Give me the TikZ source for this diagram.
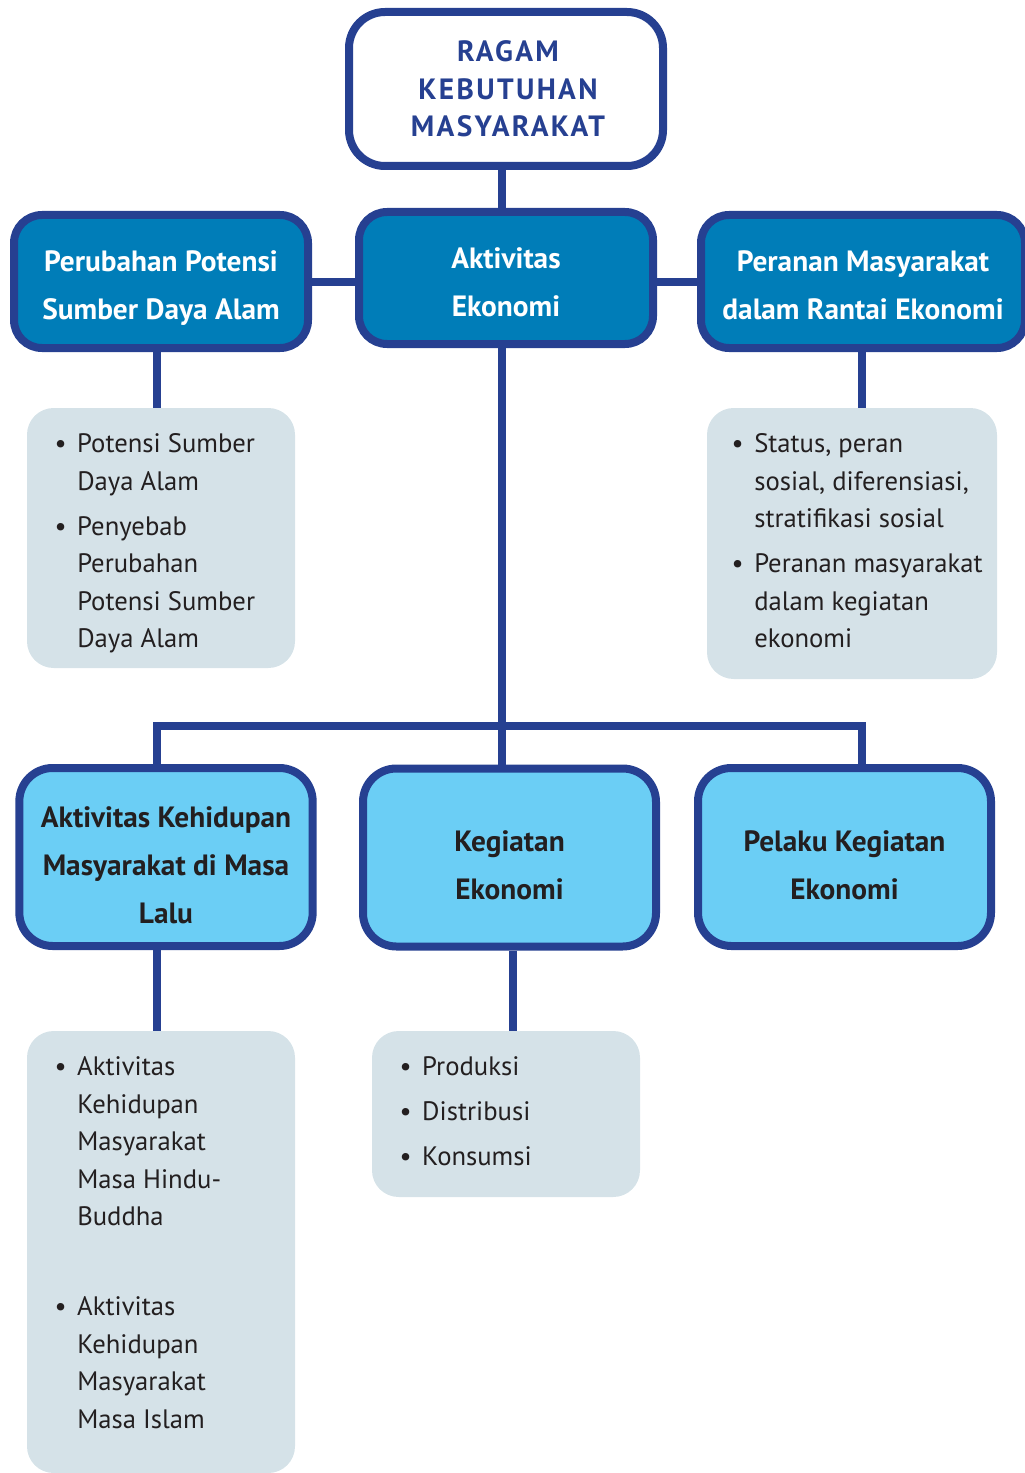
\documentclass[tikz,border=0pt]{standalone}
\usepackage{fontspec}
\setmainfont{PT Sans}
\definecolor{dblue}{RGB}{38,64,145}
\definecolor{mblue}{RGB}{0,125,184}
\definecolor{lblue}{RGB}{107,206,245}
\definecolor{gbox}{RGB}{213,226,232}
\definecolor{ink}{RGB}{35,31,32}
\newcommand{\itm}{\makebox[0pt][r]{\textbullet\hspace{8pt}}}
\begin{document}
\begin{tikzpicture}[x=0.75pt,y=-0.75pt,
 boxbase/.style={draw=dblue,line width=6pt,inner sep=0pt,rounded corners=21pt},
 topbox/.style={boxbase,fill=white,minimum width=235.5pt,minimum height=115.5pt,rounded corners=27pt},
 midbox/.style={boxbase,fill=mblue,minimum width=220.5pt,minimum height=99.75pt},
 lowbox/.style={boxbase,fill=lblue,minimum width=220pt,minimum height=133.5pt,rounded corners=25pt},
 graybox/.style={fill=gbox,inner sep=0pt,rounded corners=20pt},
 toptext/.style={font=\bfseries\fontsize{22}{28}\selectfont\addfontfeatures{LetterSpace=8},align=center,inner sep=0pt,text=dblue},
 hdrtext/.style={font=\bfseries\fontsize{22}{36}\selectfont,align=center,inner sep=0pt},
 listtext/.style={font=\fontsize{20}{28.1}\selectfont,align=left,inner sep=0pt,anchor=north west,text=ink},
 link/.style={draw=dblue,line width=6pt}
]
\useasboundingbox (0,0) rectangle (1024,1473);
\coordinate (trunk) at (502,0);
\coordinate (xl) at (157,0);
\coordinate (xr) at (862,0);
\coordinate (xlc) at (513,0);
\coordinate (busy) at (0,726);
\coordinate (hy) at (0,282);

% top
\node[topbox] (T) at (506,89) {};
\node[toptext] (Tt) at (508,89) {RAGAM\\KEBUTUHAN\\MASYARAKAT};

% middle row
\node[midbox] (ML) at (161,281.5) {};
\node[hdrtext,text=white] (MLt) at (161,288) {Perubahan Potensi\\Sumber Daya Alam};
\node[midbox,minimum height=99pt] (MC) at (506,278) {};
\node[hdrtext,text=white] (MCt) at (506,282) {Aktivitas\\Ekonomi};
\node[midbox,minimum width=243pt] (MR) at (863,281.5) {};
\node[hdrtext,text=white] (MRt) at (863,285) {Peranan Masyarakat\\dalam Rantai Ekonomi};

% gray boxes upper
\node[graybox,minimum width=201pt,minimum height=195pt] (GL1) at (161,538) {};
\node[listtext] (GL1t) at (77,433.5) {\itm Potensi Sumber\\Daya Alam\\[5.6pt]\itm Penyebab\\Perubahan\\Potensi Sumber\\Daya Alam};
\node[graybox,minimum width=217.5pt,minimum height=203.25pt] (GR1) at (852,543.5) {};
\node[listtext] (GR1t) at (754,433.5) {\itm Status, peran\\sosial, diferensiasi,\\stratifikasi sosial\\[5.6pt]\itm Peranan masyarakat\\dalam kegiatan\\ekonomi};

% lower row
\node[lowbox] (LL) at (166,857) {};
\node[hdrtext,text=ink] (LLt) at (166,865) {Aktivitas Kehidupan\\Masyarakat di Masa\\Lalu};
\node[lowbox,minimum width=219.75pt] (LC) at (509.5,857.5) {};
\node[hdrtext,text=ink] (LCt) at (509.5,865) {Kegiatan\\Ekonomi};
\node[lowbox,minimum width=219.75pt] (LR) at (844.5,857) {};
\node[hdrtext,text=ink] (LRt) at (844.5,865) {Pelaku Kegiatan\\Ekonomi};

% gray boxes lower
\node[graybox,minimum width=201pt,minimum height=331.5pt] (GL2) at (161,1252) {};
\node[listtext] (GL2t) at (77,1056.5) {\itm Aktivitas\\Kehidupan\\Masyarakat\\Masa Hindu-\\Buddha\\[39.4pt]\itm Aktivitas\\Kehidupan\\Masyarakat\\Masa Islam};
\node[graybox,minimum width=201pt,minimum height=124.5pt] (GC2) at (506,1114) {};
\node[listtext] (GC2t) at (422,1056.5) {\itm Produksi\\[5.6pt]\itm Distribusi\\[5.6pt]\itm Konsumsi};

% connectors
\draw[link] (T.south -| trunk) -- (MC.north -| trunk);
\draw[link] (ML.east |- hy) -- (MC.west |- hy);
\draw[link] (MC.east |- hy) -- (MR.west |- hy);
\draw[link] (ML.south -| xl) -- (GL1.north -| xl);
\draw[link] (MR.south -| xr) -- (GR1.north -| xr);
\draw[link] (MC.south -| trunk) -- (LC.north -| trunk);
\draw[link] (LL.north -| xl) |- (trunk |- busy) -| (LR.north -| xr);
\draw[link] (LL.south -| xl) -- (GL2.north -| xl);
\draw[link] (LC.south -| xlc) -- (GC2.north -| xlc);
\end{tikzpicture}
\end{document}
